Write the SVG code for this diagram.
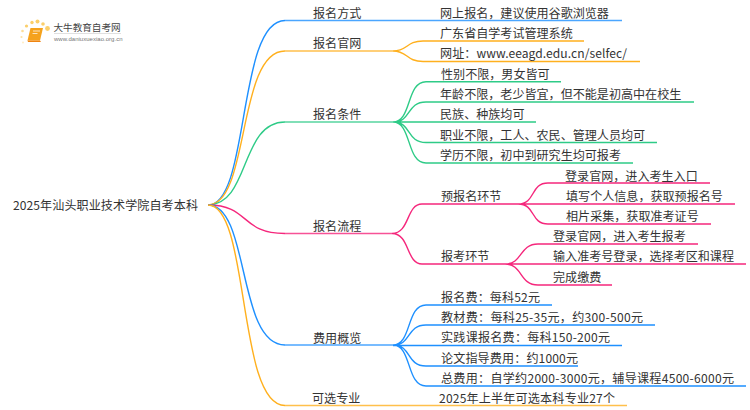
<svg xmlns="http://www.w3.org/2000/svg" width="750" height="410" viewBox="0 0 750 410">
<style>
text{font-family:"Noto Sans CJK SC","Noto Sans",sans-serif;font-size:12.07px;fill:#333}
.c path{fill:none;stroke-width:1.4}
.b path{stroke:#1e90ff}.o path{stroke:#ffb01e}.g path{stroke:#2ecb87}.p path{stroke:#f5277c}
.c path.h{stroke-width:1.6;stroke-opacity:.8}
</style>
<rect width="750" height="410" fill="#fff"/>
<g id="logo">
<g fill="#fbcf6b"><circle cx="47.500" cy="28.500" r="2.400"/><circle cx="37.500" cy="21.500" r="2"/><circle cx="43" cy="24" r="1.800"/><circle cx="32" cy="22.500" r="1.700"/><circle cx="26.500" cy="26" r="1.600"/><circle cx="22.500" cy="31" r="1.300" opacity=".7"/><circle cx="21.500" cy="37" r="1.100" opacity=".6"/><circle cx="23" cy="42.500" r="1" opacity=".4"/></g>
<path d="M30.500 28H43L40 40.500H27.500z" fill="#f5a21d"/><path d="M27.500 40.500H40L41 42H28z" fill="#ef8410"/><path d="M33 31h7M32.500 33.500h5" stroke="#fff" stroke-width=".9" opacity=".8"/>
<text x="53.500" y="31" style="font-size:9.6px;fill:#444">大牛教育自考网</text>
<rect x="54" y="33" width="67" height=".6" fill="#ccc"/>
<text x="54" y="41" style="font-size:6px;fill:#777;font-family:'Liberation Sans',sans-serif" textLength="68.500">www.daniuxuexiao.org.cn</text>
</g>
<g id="connectors" class="c">
<g class="b"><path d="M208 205C250 205 237 20.500 285 20.500"/><path class="h" d="M285 20.500H622"/></g>
<g class="o"><path d="M208 205C250 205 237 51 285 51"/><path class="h" d="M285 51H393"/><path d="M393 51C408 51 406 41 423 41H584M393 51C408 51 406 61.500 423 61.500H640"/></g>
<g class="g"><path d="M208 205C250 205 240 122 285 122"/><path class="h" d="M285 122H393"/><path d="M393 122C412 122 406 81.700 426 81.700H561M393 122C412 122 406 102 426 102H694M393 122H536M393 122C412 122 406 142.500 426 142.500H657M393 122C412 122 406 163 426 163H633"/></g>
<g class="p"><path d="M208 205C250 205 240 233.500 285 233.500"/><path class="h" d="M285 233.500H392"/>
<path d="M392 233.500C410 233.500 406 204 422 204H518M392 233.500C410 233.500 406 264 422 264H505"/>
<path d="M518 204C536 204 530 183 548 183H710M518 204H735M518 204C536 204 530 224 548 224H711"/>
<path d="M505 264C523 264 519 244 538 244H698M505 264H746M505 264C523 264 519 285 538 285H612"/></g>
<g class="b"><path d="M208 205C250 205 237 345 285 345"/><path class="h" d="M285 345H393"/><path d="M393 345C412 345 406 305 426 305H552M393 345C412 345 406 325 426 325H655M393 345.500H622M393 345C412 345 406 366 426 366H578M393 345C412 345 406 386 426 386H746"/></g>
<g class="o"><path d="M208 205C250 205 237 405.500 285 405.500"/><path class="h" d="M285 405.500H627"/></g>
</g>
<g transform="translate(0 .6)">
<g id="root"><text x="13" y="209" textLength="185">2025年汕头职业技术学院自考本科</text></g>
<g id="n1"><text x="313" y="17">报名方式</text></g>
<g id="n1a"><text x="440" y="17">网上报名，建议使用谷歌浏览器</text></g>
<g id="n2"><text x="313" y="47">报名官网</text></g>
<g id="n2a"><text x="440" y="37">广东省自学考试管理系统</text></g>
<g id="n2b"><text x="440" y="57" textLength="187">网址：www.eeagd.edu.cn/selfec/</text></g>
<g id="n3"><text x="313" y="118">报名条件</text></g>
<g id="n3a"><text x="441" y="78">性别不限，男女皆可</text></g>
<g id="n3b"><text x="440" y="98">年龄不限，老少皆宜，但不能是初高中在校生</text></g>
<g id="n3c"><text x="440" y="118">民族、种族均可</text></g>
<g id="n3d"><text x="440" y="139">职业不限，工人、农民、管理人员均可</text></g>
<g id="n3e"><text x="440" y="159">学历不限，初中到研究生均可报考</text></g>
<g id="n4"><text x="313" y="230">报名流程</text></g>
<g id="n4a"><text x="441" y="200">预报名环节</text></g>
<g id="n4a1"><text x="565" y="180">登录官网，进入考生入口</text></g>
<g id="n4a2"><text x="566" y="200">填写个人信息，获取预报名号</text></g>
<g id="n4a3"><text x="566" y="220">相片采集，获取准考证号</text></g>
<g id="n4b"><text x="441" y="260">报考环节</text></g>
<g id="n4b1"><text x="553" y="240">登录官网，进入考生报考</text></g>
<g id="n4b2"><text x="553" y="260">输入准考号登录，选择考区和课程</text></g>
<g id="n4b3"><text x="553" y="281">完成缴费</text></g>
<g id="n5"><text x="313" y="342">费用概览</text></g>
<g id="n5a"><text x="441" y="301" textLength="99">报名费：每科52元</text></g>
<g id="n5b"><text x="441" y="321" textLength="202">教材费：每科25-35元，约300-500元</text></g>
<g id="n5c"><text x="441" y="341" textLength="169">实践课报名费：每科150-200元</text></g>
<g id="n5d"><text x="441" y="362" textLength="137">论文指导费用：约1000元</text></g>
<g id="n5e"><text x="441" y="382" textLength="293">总费用：自学约2000-3000元，辅导课程4500-6000元</text></g>
<g id="n6"><text x="312" y="402">可选专业</text></g>
<g id="n6a"><text x="439" y="402" textLength="176">2025年上半年可选本科专业27个</text></g>
</g>
</svg>
